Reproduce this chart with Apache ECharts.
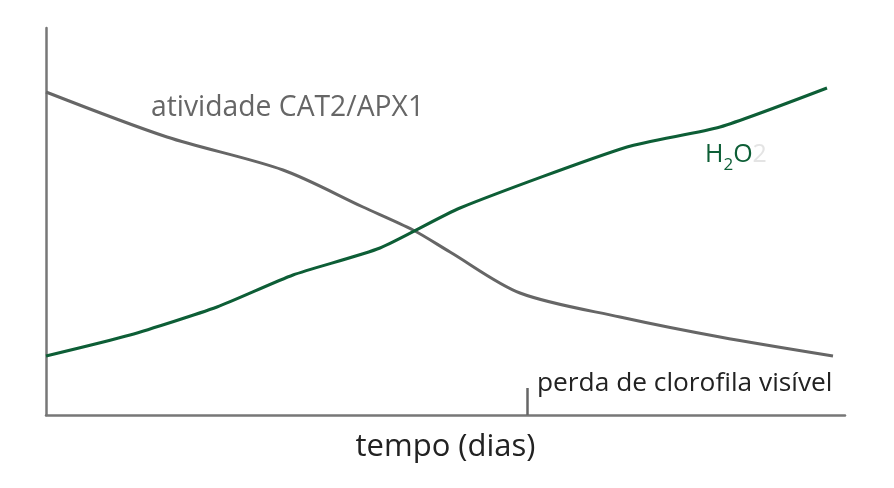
<!DOCTYPE html>
<html><head><meta charset="utf-8">
<script src="https://cdn.jsdelivr.net/npm/echarts@6/dist/echarts.min.js"></script>
<style>html,body{margin:0;padding:0;background:#fff}#c{width:894px;height:488px}</style>
</head><body><div id="c"></div>
<script>
// x: time (arbitrary units), y: relative level (arbitrary units)
const catApxX = [0, 121, 237, 317, 367, 404, 474, 574, 674, 787];
const catApxY = [323, 278, 245, 208, 185, 163, 122, 98, 78, 59];
const h2o2X = [0, 84, 171, 247, 334, 414, 581, 674, 781];
const h2o2Y = [59, 80, 108, 140, 167, 207, 268, 288, 327];
const chlorophyllLossX = 481;
const chlorophyllTickTop = 27;
const labels = {
  cat: 'atividade CAT2/APX1',
  chl: 'perda de clorofila visível',
  xName: 'tempo (dias)'
};
const gray = '#666666', green = '#0d5e36';
const font = '"Open Sans", sans-serif';
const chart = echarts.init(document.getElementById('c'));
chart.setOption({
  animation: false,
  grid: {left: 46, right: 49, top: 28, bottom: 73},
  xAxis: {type: 'value', min: 0, max: 799,
    axisLine: {show: true, lineStyle: {color: '#777', width: 2.5}},
    axisTick: {show: false}, axisLabel: {show: false}, splitLine: {show: false},
    name: labels.xName, nameLocation: 'middle', nameGap: 17,
    nameTextStyle: {fontSize: 31, color: '#222', fontFamily: font, verticalAlign: 'top'}},
  yAxis: {type: 'value', min: 0, max: 387,
    axisLine: {show: true, lineStyle: {color: '#777', width: 2.5}},
    axisTick: {show: false}, axisLabel: {show: false}, splitLine: {show: false}},
  series: [
    {type: 'line', data: catApxX.map((x, i) => [x, catApxY[i]]), smooth: 0.3,
     showSymbol: false, lineStyle: {color: gray, width: 3}, z: 3},
    {type: 'line', data: h2o2X.map((x, i) => [x, h2o2Y[i]]), smooth: 0.2,
     showSymbol: false, lineStyle: {color: green, width: 3}, z: 4,
     markLine: {silent: true, symbol: 'none', label: {show: false},
       lineStyle: {color: gray, width: 2.5, type: 'solid'},
       data: [[{coord: [chlorophyllLossX, 0]}, {coord: [chlorophyllLossX, chlorophyllTickTop]}]]}}
  ],
  graphic: [
    {type: 'text', left: 151, top: 94, style: {text: labels.cat, fontSize: 28.3, fill: gray, fontFamily: font}},
    {type: 'text', left: 537, top: 371, style: {text: labels.chl, fontSize: 26.3, fill: '#222', fontFamily: font}},
    {type: 'text', left: 705, top: 142, style: {
      text: '{a|H}{s|2}{a|O}{f|2}', fontFamily: font,
      rich: {a: {fontSize: 25, fill: green, fontFamily: font, verticalAlign: 'bottom', padding: [0, 0, 7, 0]},
             s: {fontSize: 17, fill: green, fontFamily: font, verticalAlign: 'bottom'},
             f: {fontSize: 25, fill: '#e4e4e4', fontFamily: font, verticalAlign: 'bottom', padding: [0, 0, 7, 0]}}}}
  ]
});
</script></body></html>
